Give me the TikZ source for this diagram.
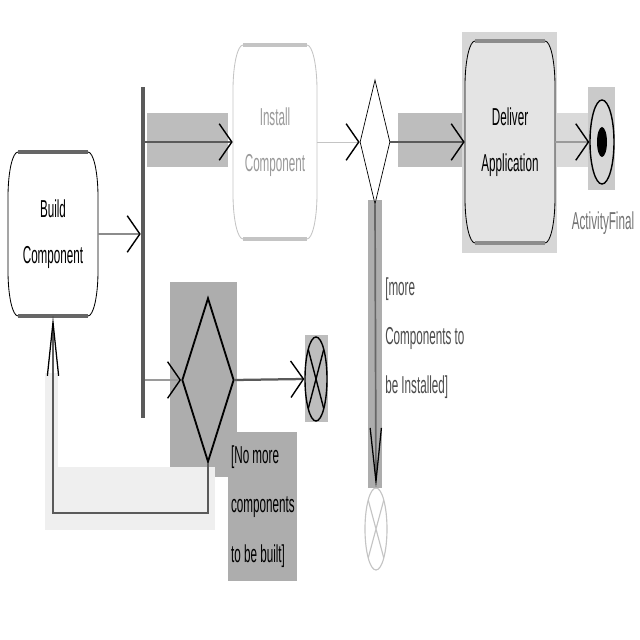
\documentclass[tikz,border=0pt]{standalone}
\usepackage{fontspec}
\setmainfont{Liberation Sans}
\usepackage{graphicx}
\usetikzlibrary{arrows.meta,shapes.geometric}

\definecolor{flowline}{HTML}{5A5A5A}
\definecolor{softline}{HTML}{9A9A9A}
\definecolor{hilite}{HTML}{BDBDBD}
\definecolor{softhl}{HTML}{DADADA}
\definecolor{backdrop}{HTML}{ADADAD}
\definecolor{paleband}{HTML}{EFEFEF}
\definecolor{deliverfill}{HTML}{E4E4E4}
\definecolor{deliverback}{HTML}{D6D6D6}
\definecolor{ghost}{HTML}{C4C4C4}

% stretched text, like the screenshot
\newcommand{\tall}[1]{\scalebox{1}[2.1]{#1}}

% activity: cx, cy, half width, half height, fill, outline, top/bottom bar
\newcommand{\activity}[7]{%
  \filldraw[fill=#5, draw=#6, line width=.6pt]
    (#1-#3+10,#2+#4) -- (#1+#3-10,#2+#4)
    arc[start angle=90, end angle=0, x radius=10, y radius=45]
    -- (#1+#3,#2-#4+45)
    arc[start angle=0, end angle=-90, x radius=10, y radius=45]
    -- (#1-#3+10,#2-#4)
    arc[start angle=270, end angle=180, x radius=10, y radius=45]
    -- (#1-#3,#2+#4-45)
    arc[start angle=180, end angle=90, x radius=10, y radius=45]
    -- cycle;
  \draw[#7, line width=2.2pt] (#1-#3+10,#2+#4) -- (#1+#3-10,#2+#4)
    (#1-#3+10,#2-#4) -- (#1+#3-10,#2-#4);
}

\tikzset{
  acttext/.style={font=\fontsize{8.3}{33}\selectfont, align=center, inner sep=0pt},
  guardtext/.style={font=\fontsize{8.3}{35}\selectfont, align=left, inner sep=0pt, anchor=west},
  forkbar/.style={fill=flowline, inner sep=0pt, minimum width=0.1cm, minimum height=8.275cm},
  decision/.style={diamond, draw, inner sep=0pt},
  flowend/.style={ellipse, draw=#1, inner sep=0pt, minimum width=0.55cm, minimum height=2.1cm,
    path picture={\draw[#1] (path picture bounding box.north west) -- (path picture bounding box.south east)
      (path picture bounding box.south west) -- (path picture bounding box.north east);}},
  flowend/.default=black,
  hflow/.style={draw=#1, line width=1.6pt, -{Straight Barb[length=9pt, width=26pt, line width=1pt, color=black]}},
  hflow/.default=flowline,
  vflow/.style={draw=#1, line width=1.2pt, -{Straight Barb[length=38pt, width=8pt, line width=.9pt, color=black]}},
  vflow/.default=flowline,
}

\begin{document}
\begin{tikzpicture}[x=0.025cm, y=0.025cm]
  \useasboundingbox (0,0) rectangle (640,640);

  % highlight boxes behind the edges
  \fill[hilite] (147,473) rectangle (228,527);
  \fill[hilite] (398,473) rectangle (463,527);
  \fill[softhl] (555,473) rectangle (590,527);
  \fill[deliverback] (462,387) rectangle (557,608);
  \fill[hilite!80] (588,450) rectangle (615,553);
  \fill[backdrop] (170,163) rectangle (237,358);
  \fill[hilite] (305,218) rectangle (328,305);
  \fill[paleband] (45,110) rectangle (215,173);
  \fill[paleband] (45,110) rectangle (58,267);
  \fill[backdrop] (368,152) rectangle (382,440);

  % activities
  \activity{53}{406}{45}{82}{white}{black}{black!60}
  \activity{275}{498}{42}{97}{white}{ghost}{ghost}
  \activity{510}{498}{45}{101}{deliverfill}{black}{black!45}
  \node[acttext] (build) at (53,406) [minimum width=2.25cm, minimum height=4.1cm]
    {\tall{Build}\\\tall{Component}};
  \node[acttext, text=softline] (install) at (275,498) [minimum width=2.1cm, minimum height=4.85cm]
    {\tall{Install}\\\tall{Component}};
  \node[acttext] (deliver) at (510,498) [minimum width=2.25cm, minimum height=5.05cm]
    {\tall{Deliver}\\\tall{Application}};

  % control nodes
  \node[forkbar] (fork) at (143,387.5) {};
  \node[decision, fill=white, line width=.5pt, minimum width=0.75cm, minimum height=3.1cm] (dec1) at (375,498) {};
  \node[decision, line width=1.3pt, minimum width=1.3cm, minimum height=4.1cm] (dec2) at (208,260) {};
  \node[flowend, line width=1pt] (ffbuild) at (316,261) {};
  \node[flowend=ghost, fill=white, line width=.8pt, minimum height=2.05cm] (ffinst) at (376,111) {};
  \node[ellipse, draw, line width=1pt, fill=hilite!60, inner sep=0pt,
    minimum width=0.6cm, minimum height=2.1cm] (final) at (602,498) {};
  \fill (final.center) ellipse[x radius=5, y radius=15];

  % texts
  \node[acttext, text=black!55] (finaltext) at (603,417) {\tall{ActivityFinal}};
  \node[guardtext, text=black!70] (gmore) at (385,302)
    {\tall{[more}\\\tall{Components to}\\\tall{be Installed]}};
  \node[guardtext, fill=backdrop, inner xsep=2pt, minimum height=3.7cm] (gnone) at (228,133.5)
    {\tall{[No more}\\\tall{components}\\\tall{to be built]}};

  % edges
  \draw[hflow=black!45] (build.east) -- (build.east -| fork.west);
  \draw[hflow] (install.west -| fork.east) -- (install.west);
  \draw[hflow=ghost, line width=.6pt] (install.east) -- (dec1.west);
  \draw[hflow] (dec1.east) -- (deliver.west);
  \draw[hflow=softline] (deliver.east) -- (final.west);
  \draw[hflow=softline] (dec2.west -| fork.east) -- (dec2.west);
  \draw[hflow] (dec2.east) -- (ffbuild.west);
  \draw[vflow] (dec2.south) -- ++(0,-50) -| (build.south);
  \draw[vflow=black!60] (dec1.south) -- (ffinst.north);
\end{tikzpicture}
\end{document}
